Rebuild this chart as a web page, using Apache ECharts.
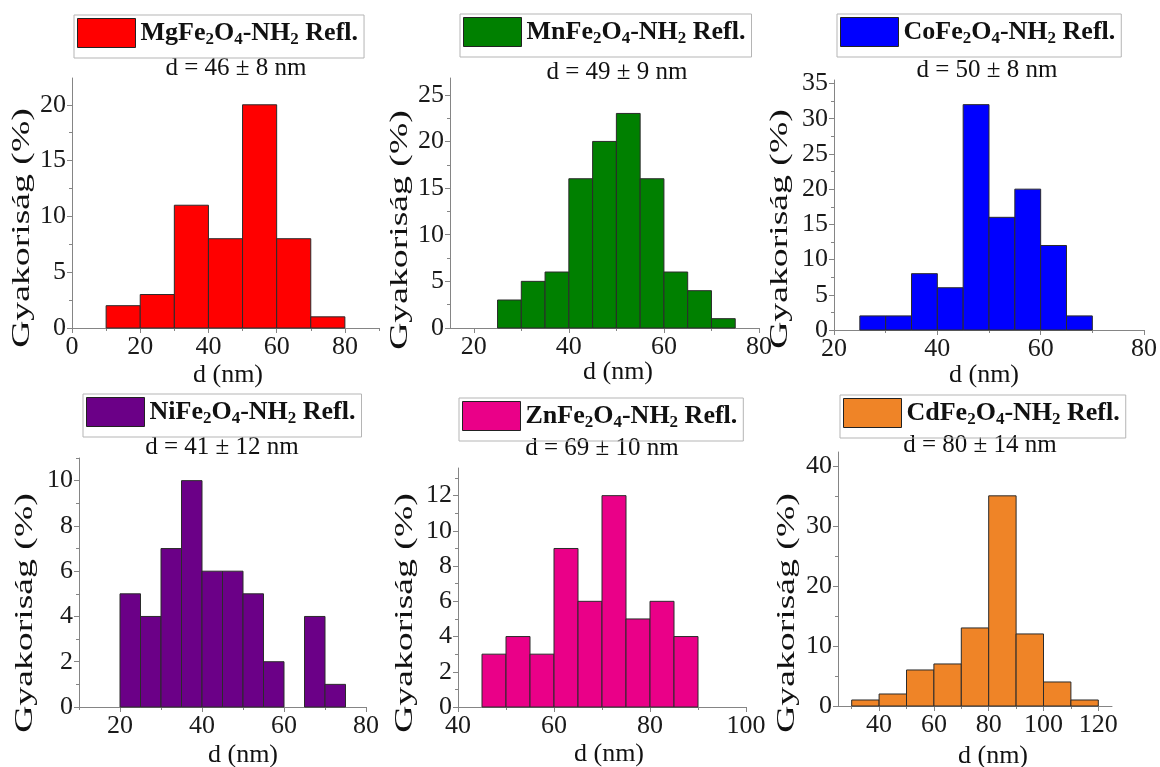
<!DOCTYPE html>
<html><head><meta charset="utf-8">
<script src="https://cdn.jsdelivr.net/npm/echarts@6/dist/echarts.min.js"></script>
<style>html,body{margin:0;padding:0;background:#fff}#c{width:1160px;height:767px}</style>
</head><body><div id="c"></div>
<script>
// ---------- data ----------
const sampleNames = ['MgFe2O4-NH2 Refl.', 'MnFe2O4-NH2 Refl.', 'CoFe2O4-NH2 Refl.',
                     'NiFe2O4-NH2 Refl.', 'ZnFe2O4-NH2 Refl.', 'CdFe2O4-NH2 Refl.'];
const meanSizes = ['d = 46 ± 8 nm', 'd = 49 ± 9 nm', 'd = 50 ± 8 nm',
                   'd = 41 ± 12 nm', 'd = 69 ± 10 nm', 'd = 80 ± 14 nm'];

const mgEdges  = [10, 20, 30, 40, 50, 60, 70, 80];
const mgCounts = [2, 3, 11, 8, 20, 8, 1];
const mnEdges  = [25, 30, 35, 40, 45, 50, 55, 60, 65, 70, 75];
const mnCounts = [3, 5, 6, 16, 20, 23, 16, 6, 4, 1];
const coEdges  = [25, 30, 35, 40, 45, 50, 55, 60, 65, 70];
const coCounts = [2, 2, 8, 6, 32, 16, 20, 12, 2];
const niEdges  = [20, 25, 30, 35, 40, 45, 50, 55, 60, 65, 70, 75];
const niCounts = [5, 4, 7, 10, 6, 6, 5, 2, 0, 4, 1];
const znEdges  = [45, 50, 55, 60, 65, 70, 75, 80, 85, 90];
const znCounts = [3, 4, 3, 9, 6, 12, 5, 6, 4];
const cdEdges  = [30, 40, 50, 60, 70, 80, 90, 100, 110, 120];
const cdCounts = [1, 2, 6, 7, 13, 35, 12, 4, 1];

const mgXTicks = [0, 20, 40, 60, 80];     const mgYTicks = [0, 5, 10, 15, 20];
const mnXTicks = [20, 40, 60, 80];        const mnYTicks = [0, 5, 10, 15, 20, 25];
const coXTicks = [20, 40, 60, 80];        const coYTicks = [0, 5, 10, 15, 20, 25, 30, 35];
const niXTicks = [20, 40, 60, 80];        const niYTicks = [0, 2, 4, 6, 8, 10];
const znXTicks = [40, 60, 80, 100];       const znYTicks = [0, 2, 4, 6, 8, 10, 12];
const cdXTicks = [40, 60, 80, 100, 120];  const cdYTicks = [0, 10, 20, 30, 40];

const xName = 'd (nm)';
const yName = 'Gyakoriság (%)';

// ---------- layout / style (not data) ----------
const FONT = "'Liberation Serif','Times New Roman',serif";
const panels = [
  {edges: mgEdges, counts: mgCounts, xt: mgXTicks, yt: mgYTicks, color: '#ff0000',
   grid: [72, 78, 307, 250], xr: [0, 90], ymax: 22.4, legend: [74, 15], sub: [236, 68], xn: [228, 375], yn: [22, 228]},
  {edges: mnEdges, counts: mnCounts, xt: mnXTicks, yt: mnYTicks, color: '#008000',
   grid: [450, 78, 309, 250], xr: [15, 80], ymax: 26.8, legend: [460, 14], sub: [617, 72], xn: [618, 372], yn: [400, 230]},
  {edges: coEdges, counts: coCounts, xt: coXTicks, yt: coYTicks, color: '#0000ff',
   grid: [834, 80, 311, 250], xr: [20, 80], ymax: 35.5, legend: [837, 14], sub: [987, 70], xn: [984, 375], yn: [780, 229]},
  {edges: niEdges, counts: niCounts, xt: niXTicks, yt: niYTicks, color: '#6b0087',
   grid: [79, 458, 287, 249], xr: [10, 80], ymax: 11.0, legend: [83, 394], sub: [222, 447], xn: [243, 755], yn: [25, 613]},
  {edges: znEdges, counts: znCounts, xt: znXTicks, yt: znYTicks, color: '#ea0088',
   grid: [458, 468, 288, 239], xr: [40, 100], ymax: 13.57, legend: [459, 398], sub: [602, 448], xn: [609, 754], yn: [405, 613]},
  {edges: cdEdges, counts: cdCounts, xt: cdXTicks, yt: cdYTicks, color: '#ef8427',
   grid: [838, 452, 274, 254], xr: [25, 125], ymax: 42.3, legend: [840, 395], sub: [980, 445], xn: [993, 756], yn: [787, 613]}
];

function minors(ticks, lo, hi) {
  const step = ticks[1] - ticks[0];
  const out = [];
  for (let v = ticks[0] - step / 2; v <= hi + 1e-9; v += step) if (v >= lo - 1e-9) out.push(v);
  return out;
}

const AX = '#858585';
const grid = [], xAxis = [], yAxis = [], series = [], legend = [], graphic = [];
panels.forEach((p, i) => {
  grid.push({left: p.grid[0], top: p.grid[1], width: p.grid[2], height: p.grid[3], containLabel: false});
  const common = {gridIndex: i, splitLine: {show: false}};
  xAxis.push(Object.assign({}, common, {
    type: 'value', position: 'bottom', min: p.xr[0], max: p.xr[1],
    axisLine: {show: true, onZero: false, lineStyle: {color: AX, width: 1}},
    axisTick: {show: true, length: 5, customValues: p.xt, lineStyle: {color: AX}},
    axisLabel: {customValues: p.xt, margin: 6, fontFamily: FONT, fontSize: 26, color: '#1a1a1a'}
  }));
  xAxis.push(Object.assign({}, common, {
    type: 'value', position: 'bottom', min: p.xr[0], max: p.xr[1],
    axisLine: {show: false}, axisLabel: {show: false},
    axisTick: {show: true, length: 3, customValues: minors(p.xt, p.xr[0], p.xr[1]), lineStyle: {color: AX}}
  }));
  yAxis.push(Object.assign({}, common, {
    type: 'value', position: 'left', min: 0, max: p.ymax,
    axisLine: {show: true, onZero: false, lineStyle: {color: AX, width: 1}},
    axisTick: {show: true, length: 5, customValues: p.yt, lineStyle: {color: AX}},
    axisLabel: {customValues: p.yt, margin: 6, fontFamily: FONT, fontSize: 26, color: '#1a1a1a'}
  }));
  yAxis.push(Object.assign({}, common, {
    type: 'value', position: 'left', min: 0, max: p.ymax,
    axisLine: {show: false}, axisLabel: {show: false},
    axisTick: {show: true, length: 3, customValues: minors(p.yt, 0, p.ymax), lineStyle: {color: AX}}
  }));
  const data = p.counts.map((c, k) => [p.edges[k], p.edges[k + 1], c]);
  series.push({
    type: 'custom', name: sampleNames[i], xAxisIndex: 2 * i, yAxisIndex: 2 * i,
    data: data, encode: {x: [0, 1], y: 2},
    itemStyle: {color: p.color},
    renderItem: (params, api) => {
      if (!api.value(2)) return null;
      const a = api.coord([api.value(0), api.value(2)]);
      const b = api.coord([api.value(1), 0]);
      return {type: 'rect', shape: {x: a[0], y: a[1], width: b[0] - a[0], height: b[1] - a[1]},
              style: {fill: p.color, stroke: '#2b2b2b', lineWidth: 1}};
    }
  });
  legend.push({
    left: p.legend[0], top: p.legend[1], orient: 'horizontal', selectedMode: false,
    data: [{name: sampleNames[i], icon: 'rect', itemStyle: {color: p.color, borderColor: '#222', borderWidth: 1}}],
    itemWidth: 58, itemHeight: 29, padding: [3, 6, 10, 3],
    borderColor: '#b5b5b5', borderWidth: 1,
    formatter: n => n.replace(/(\d)/g, '{s|$1}'),
    textStyle: {fontFamily: FONT, fontWeight: 'bold', fontSize: 26, lineHeight: 30, color: '#111',
      rich: {s: {fontFamily: FONT, fontWeight: 'bold', fontSize: 17, lineHeight: 16, verticalAlign: 'bottom', color: '#111'}}}
  });
  const txt = (x, y, text, extra) => Object.assign({type: 'text', x: x, y: y, silent: true,
    style: {text: text, fontFamily: FONT, fontSize: 25, fill: '#111',
            align: 'center', verticalAlign: 'middle', textAlign: 'center', textVerticalAlign: 'middle'}}, extra || {});
  graphic.push(txt(p.sub[0], p.sub[1], meanSizes[i]));
  graphic.push(txt(p.xn[0], p.xn[1], xName, {style: {text: xName, fontFamily: FONT, fontSize: 26, fill: '#111',
            align: 'center', verticalAlign: 'middle', textAlign: 'center', textVerticalAlign: 'middle'}}));
  graphic.push(txt(p.yn[0], p.yn[1], yName, {rotation: Math.PI / 2, scaleX: 1.45,
    style: {text: yName, fontFamily: FONT, fontSize: 26, fill: '#111',
            align: 'center', verticalAlign: 'middle', textAlign: 'center', textVerticalAlign: 'middle'}}));
});

const chart = echarts.init(document.getElementById('c'), null, {renderer: 'canvas'});
chart.setOption({
  backgroundColor: '#fff', animation: false,
  grid, xAxis, yAxis, series, legend, graphic
});
</script>
</body></html>
